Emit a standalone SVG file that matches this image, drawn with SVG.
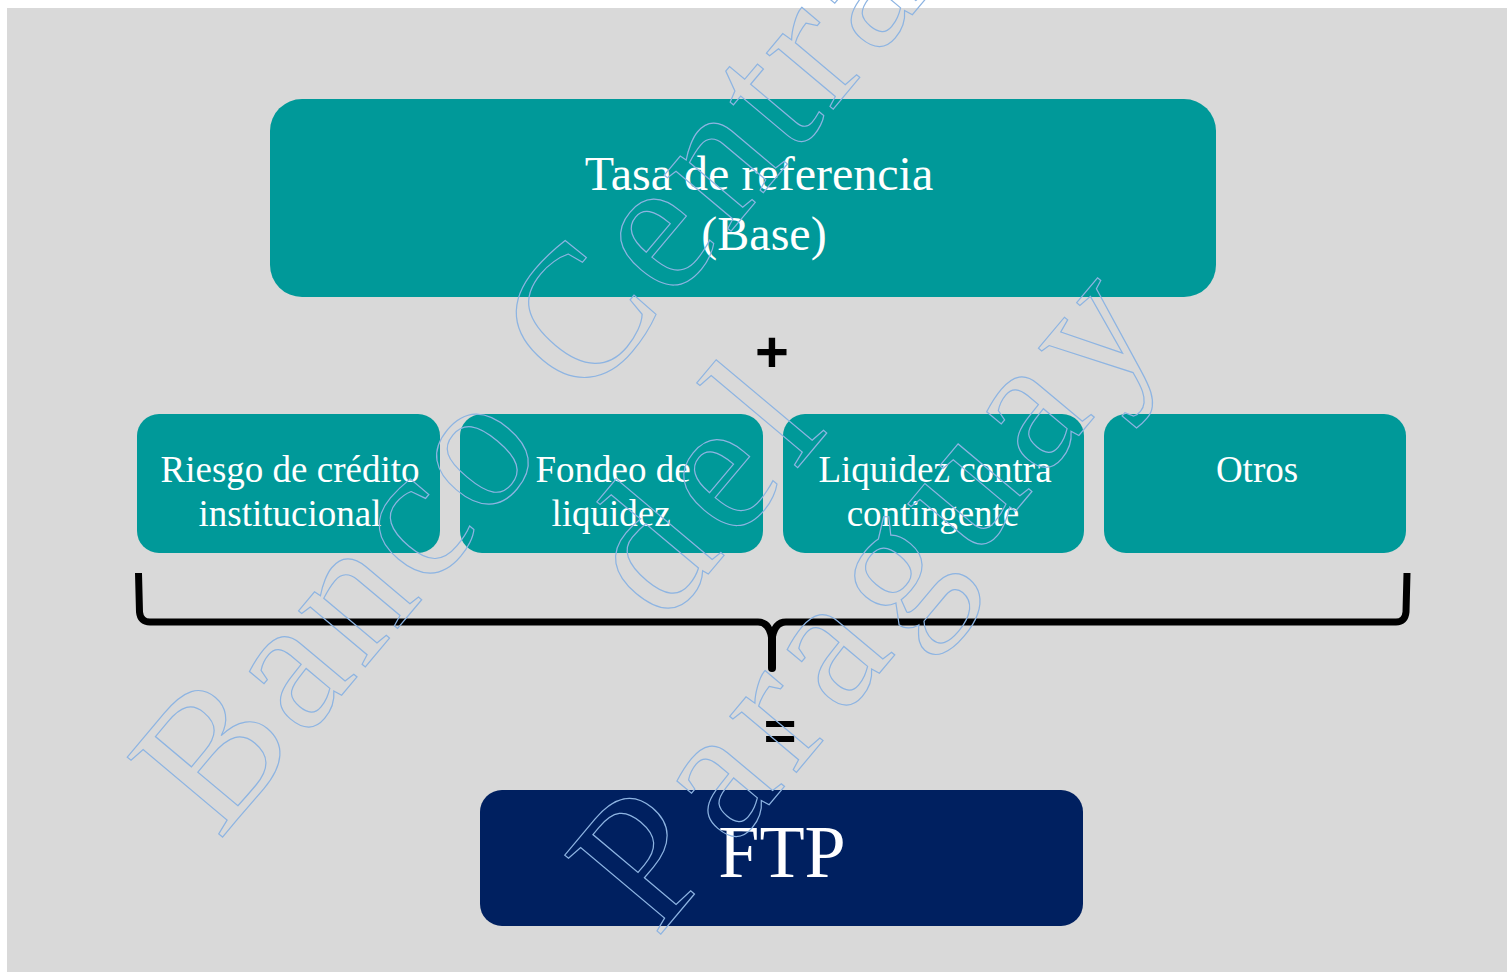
<svg xmlns="http://www.w3.org/2000/svg" width="1507" height="972" viewBox="0 0 1507 972">
<style>
.teal{fill:#009999}
.navy{fill:#002060}
.lbl{font-family:"Liberation Serif","DejaVu Serif",serif;fill:#ffffff;text-anchor:middle}
.op{font-family:"Liberation Sans","DejaVu Sans",sans-serif;font-weight:bold;fill:#000000;text-anchor:middle}
.wm{font-family:"Liberation Serif","DejaVu Serif",serif;font-size:190px;fill:none;stroke:#8db4e2;stroke-width:1.2;letter-spacing:12px}
.brace{fill:none;stroke:#000000;stroke-width:7}
</style>
<rect x="0" y="0" width="1507" height="972" fill="#ffffff"/>
<rect x="7" y="8" width="1500" height="964" fill="#d9d9d9"/>

<g id="node-base">
<rect class="teal" x="270" y="99" width="946" height="198" rx="32" ry="32"/>
<text class="lbl" font-size="48" x="759" y="190">Tasa de referencia</text>
<text class="lbl" font-size="48" x="764" y="250">(Base)</text>
</g>

<g id="op-plus"><text class="op" font-size="58" x="772" y="372">+</text></g>

<g id="node-riesgo">
<rect class="teal" x="137" y="414" width="303" height="139" rx="22" ry="22"/>
<text class="lbl" font-size="37" x="290" y="482">Riesgo de crédito</text>
<text class="lbl" font-size="37" x="290" y="526">institucional</text>
</g>
<g id="node-fondeo">
<rect class="teal" x="460" y="414" width="303" height="139" rx="22" ry="22"/>
<text class="lbl" font-size="37" x="613" y="482">Fondeo de</text>
<text class="lbl" font-size="37" x="611" y="526">liquidez</text>
</g>
<g id="node-liquidez">
<rect class="teal" x="783" y="414" width="301" height="139" rx="22" ry="22"/>
<text class="lbl" font-size="37" x="935" y="482">Liquidez contra</text>
<text class="lbl" font-size="37" x="933" y="526">contingente</text>
</g>
<g id="node-otros">
<rect class="teal" x="1104" y="414" width="302" height="139" rx="22" ry="22"/>
<text class="lbl" font-size="37" x="1257" y="482">Otros</text>
</g>

<g id="connectors">
<path class="brace" d="M138.5,573 L139.5,612 Q140.5,622 150,622 L758,622 Q770,622 772,640"/>
<path class="brace" d="M786,622 Q774,622 772,640"/>
<path class="brace" d="M786,622 L1396,622 Q1405,622 1406,612 L1407,573"/>
<path d="M772,636 L772,668" fill="none" stroke="#000000" stroke-width="8" stroke-linecap="round"/>
</g>

<g id="op-equals"><text class="op" font-size="56" x="780" y="750">=</text></g>

<g id="node-ftp">
<rect class="navy" x="480" y="790" width="603" height="136" rx="22" ry="22"/>
<text class="lbl" font-size="74" x="782" y="877">FTP</text>
</g>

<g id="watermark" transform="translate(720,490) rotate(-50)">
<text class="wm" x="-591" y="-158" style="letter-spacing:6px">Banco Central</text>
<text class="wm" x="-140" y="45">del</text>
<text class="wm" x="-385" y="240">Paraguay</text>
</g>
</svg>
